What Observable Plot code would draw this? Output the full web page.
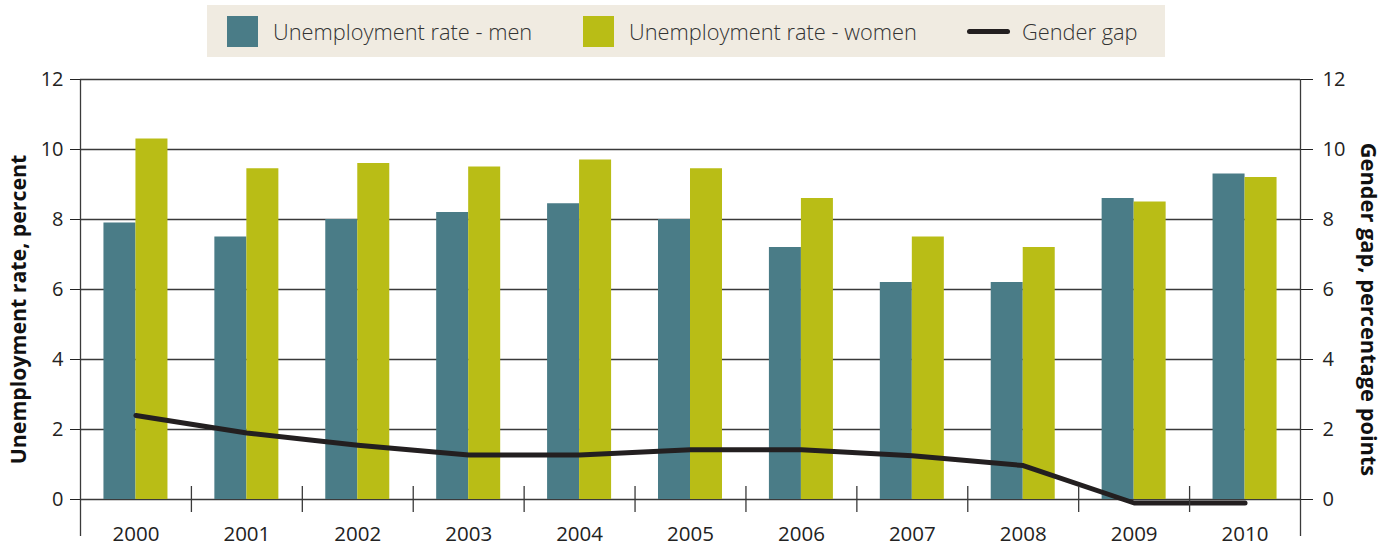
<!DOCTYPE html>
<html><head><meta charset="utf-8">
<script src="https://cdn.jsdelivr.net/npm/d3@7"></script>
<script src="https://cdn.jsdelivr.net/npm/@observablehq/plot@0.6"></script>
<style>
body{margin:0;background:#fff;font-family:"Open Sans",sans-serif;}
#legend{position:relative;height:57px;width:1383px;}
#legend .box{position:absolute;left:207px;top:5px;width:958px;height:52px;background:#f0ebe1;}
.item{position:absolute;top:0;height:52px;display:flex;align-items:center;font-size:21.8px;font-weight:300;color:#333;white-space:nowrap;}
.sw{width:31px;height:31px;margin-right:15px;}
.ln{width:43px;height:5px;border-radius:3px;background:#231f20;margin-right:12px;}
#chart svg{display:block;}
</style></head>
<body>
<div id="legend"><div class="box">
  <div class="item" style="left:20px"><div class="sw" style="background:#4a7c87"></div>Unemployment rate - men</div>
  <div class="item" style="left:376px"><div class="sw" style="background:#b9bd16"></div>Unemployment rate - women</div>
  <div class="item" style="left:760px"><div class="ln"></div>Gender gap</div>
</div></div>
<div id="chart"></div>
<script>
const years = ["2000","2001","2002","2003","2004","2005","2006","2007","2008","2009","2010"];
const men = [7.9, 7.5, 8.0, 8.2, 8.45, 8.0, 7.2, 6.2, 6.2, 8.6, 9.3];
const women = [10.3, 9.45, 9.6, 9.5, 9.7, 9.45, 8.6, 7.5, 7.2, 8.5, 9.2];
const gap = [2.4, 1.9, 1.55, 1.27, 1.27, 1.42, 1.42, 1.25, 0.97, -0.1, -0.1];
const yTicks = [0, 2, 4, 6, 8, 10, 12];

const rows = years.map((year, i) => ({i, year, men: men[i], women: women[i], gap: gap[i]}));
const bounds = d3.range(0, years.length + 1);
const inner = bounds.slice(1, -1);
const edges = [0, years.length];

const chart = Plot.plot({
  width: 1383, height: 491,
  marginLeft: 80, marginRight: 83, marginTop: 22, marginBottom: 49,
  x: {domain: [0, years.length]},
  y: {domain: [0, 12]},
  style: {fontFamily: '"Open Sans", sans-serif', fontSize: "20px", color: "#222", overflow: "visible", background: "transparent"},
  marks: [
    Plot.ruleY(yTicks, {stroke: "#3a3a3a", strokeWidth: 1.3}),
    Plot.rectY(rows, {x1: "i", x2: d => d.i + 1, y: "men", fill: "#4a7c87", insetLeft: 23.45, insetRight: 55.45}),
    Plot.rectY(rows, {x1: "i", x2: d => d.i + 1, y: "women", fill: "#b9bd16", insetLeft: 55.45, insetRight: 23.45}),
    Plot.line(rows, {x: d => d.i + 0.5, y: "gap", curve: "linear", stroke: "#231f20", strokeWidth: 5, strokeLinejoin: "round"}),
    Plot.ruleX(edges, {x: d => d, y1: () => 12, y2: () => 0, insetBottom: -37, stroke: "#3a3a3a", strokeWidth: 1.3}),
    Plot.ruleX(inner, {x: d => d, y1: () => 0, y2: () => 0, insetTop: -13, insetBottom: -13, stroke: "#3a3a3a", strokeWidth: 1.3}),
    Plot.axisY({ticks: yTicks, anchor: "left", tickSize: 10, tickPadding: 7, label: null, fontSize: 20}),
    Plot.axisY({ticks: yTicks, anchor: "right", tickSize: 12, tickPadding: 10, label: null, fontSize: 20}),
    Plot.axisX({ticks: rows.map(d => d.i + 0.5), tickFormat: v => years[Math.floor(v)], tickSize: 0, tickPadding: 27, label: null, fontSize: 20.5}),
    Plot.text(["Unemployment rate, percent"], {text: d => d, frameAnchor: "left", textAnchor: "middle", rotate: -90, dx: -61, dy: 20, fontWeight: "bold", fontSize: 21.3, fill: "#111"}),
    Plot.text(["Gender gap, percentage points"], {text: d => d, frameAnchor: "right", textAnchor: "middle", rotate: 90, dx: 67, dy: 20, fontWeight: "bold", fontSize: 21.8, fill: "#111"})
  ]
});
document.getElementById("chart").appendChild(chart);
</script>
</body></html>
